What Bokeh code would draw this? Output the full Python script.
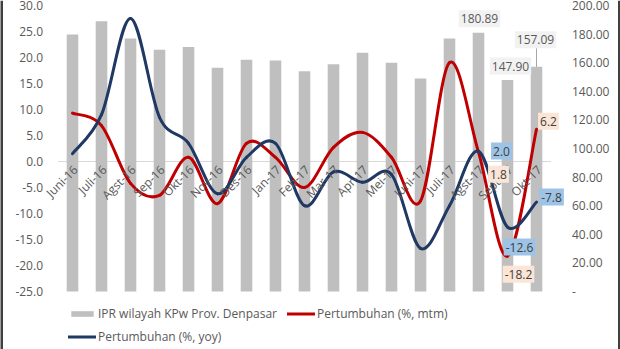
import math
from bokeh.plotting import figure
from bokeh.models import (Range1d, LinearAxis, FixedTicker, NumeralTickFormatter,
                          Label, Legend, LegendItem)
from bokeh.core.properties import value
from bokeh.embed import file_html
from bokeh.resources import INLINE

# ---------------- data ----------------
months = ["Juni-16", "Juli-16", "Agst-16", "Sep-16", "Okt-16", "Nov-16", "Des-16", "Jan-17",
          "Feb-17", "Mar-17", "Apr-17", "Mei-17", "Juni-17", "Juli-17", "Agst-17", "Sept-17", "Okt-17"]
ipr = [179.7, 189.0, 177.0, 169.0, 171.0, 156.4, 162.0, 161.5, 154.0, 159.0, 167.0, 160.0,
       149.0, 177.0, 180.89, 147.90, 157.09]
mtm = [9.3, 6.9, -4.2, -6.5, 0.8, -8.1, 3.5, 0.8, -5.0, 2.7, 5.6, 0.8, -7.6, 19.0, 1.8, -18.2, 6.2]
yoy = [1.5, 9.0, 27.5, 8.5, 3.5, -6.2, 0.8, 3.5, -8.5, -2.0, -4.0, -2.5, -16.7, -8.5, 2.0, -12.6, -7.8]
left_ticks = [-25, -20, -15, -10, -5, 0, 5, 10, 15, 20, 25, 30]
right_ticks = [0, 20, 40, 60, 80, 100, 120, 140, 160, 180, 200]

bar_labels_idx = [14, 15, 16]
mtm_labels_idx = [14, 15, 16]
yoy_labels_idx = [14, 15, 16]

FONT = "Open Sans"
GRAY_TXT = "#595959"
RED = "#C00000"
NAVY = "#203864"
BAR = "#BFBFBF"

W, H = 620, 349
n = len(months)
xs = list(range(n))

# plotting area of the original chart (pixels) -> ranges spanning the whole canvas
px_per_cat = 29.0
first_cat_px = 72.0
x_start = -first_cat_px / px_per_cat
x_end = x_start + W / px_per_cat
px_left_unit = 5.2
zero_px = 161.0
y_top = zero_px / px_left_unit
y_bot = -(H - zero_px) / px_left_unit
r_scale = 200.0 / 55.0   # right axis units per left axis unit
r_top = (y_top + 25) * r_scale
r_bot = (y_bot + 25) * r_scale

p = figure(width=W, height=H, x_range=Range1d(x_start, x_end),
           y_range=Range1d(y_bot, y_top), x_axis_type=None,
           output_backend="svg", toolbar_location=None,
           min_border=0, min_border_left=0, min_border_right=0, min_border_top=0,
           min_border_bottom=0, outline_line_color=None)
p.extra_y_ranges = {"right": Range1d(r_bot, r_top)}
p.grid.visible = False

ax = p.yaxis[0]
ax.fixed_location = -0.5
ax.ticker = FixedTicker(ticks=left_ticks)
ax.formatter = NumeralTickFormatter(format="0.0")
ax.axis_line_color = None
ax.major_tick_line_color = None
ax.minor_tick_line_color = None
ax.major_label_text_color = GRAY_TXT
ax.major_label_text_font = FONT
ax.major_label_text_font_size = "12px"
ax.major_label_standoff = 9

rax = LinearAxis(y_range_name="right", ticker=FixedTicker(ticks=right_ticks),
                 formatter=NumeralTickFormatter(format="0.00"),
                 major_label_overrides={0: "-"}, fixed_location=n - 0.5,
                 axis_line_color=None, major_tick_line_color=None, minor_tick_line_color=None,
                 major_label_text_color=GRAY_TXT, major_label_text_font=FONT,
                 major_label_text_font_size="12px", major_label_standoff=15)
p.add_layout(rax, "right")

# zero line
p.segment(x0=[-0.5], y0=[0], x1=[n - 0.5], y1=[0], line_color="#D9D9D9", line_width=1)

# bars
bars = p.vbar(x=xs, top=ipr, bottom=0, width=0.4, y_range_name="right",
              fill_color=BAR, line_color=None)


def smooth(vals):
    m = len(vals)
    x0, y0, x1, y1, cx0, cy0, cx1, cy1 = [], [], [], [], [], [], [], []
    for i in range(m - 1):
        pm = vals[max(i - 1, 0)]
        p0 = vals[i]
        p1 = vals[i + 1]
        pn = vals[min(i + 2, m - 1)]
        xm = max(i - 1, 0)
        xn = min(i + 2, m - 1)
        x0.append(i); y0.append(p0)
        x1.append(i + 1); y1.append(p1)
        cx0.append(i + (i + 1 - xm) / 6.0); cy0.append(p0 + (p1 - pm) / 6.0)
        cx1.append(i + 1 - (xn - i) / 6.0); cy1.append(p1 - (pn - p0) / 6.0)
    return dict(x0=x0, y0=y0, x1=x1, y1=y1, cx0=cx0, cy0=cy0, cx1=cx1, cy1=cy1)


red_line = p.bezier(line_color=RED, line_width=3, line_cap="round", **smooth(mtm))
blue_line = p.bezier(line_color=NAVY, line_width=3, line_cap="round", **smooth(yoy))

# x category labels at the zero line
p.text(x=xs, y=[0] * n, text=months, angle=math.pi / 4, text_align="right",
       text_baseline="middle", x_offset=3, y_offset=6, text_color=GRAY_TXT,
       text_font=value(FONT), text_font_size="12px")

# bar data labels
bar_offsets = {14: (1, 14), 15: (3, 14), 16: (-1, 27)}
for i in bar_labels_idx:
    dx, dy = bar_offsets[i]
    p.add_layout(Label(x=i, y=ipr[i], y_range_name="right", x_offset=dx, y_offset=dy,
                       text=f"{ipr[i]:.2f}", text_align="center", text_baseline="middle",
                       text_font=FONT, text_font_size="12px", text_color=GRAY_TXT,
                       background_fill_color="#F2F2F2", padding=(2, 4)))
# leader line for last bar label
p.segment(x0=[16], y0=[ipr[16]], x1=[16], y1=[ipr[16] + 13], y_range_name="right",
          line_color="#A6A6A6", line_width=1)

mtm_offsets = {14: (20, -22), 15: (11, -18), 16: (12, 8)}
for i in mtm_labels_idx:
    dx, dy = mtm_offsets[i]
    p.add_layout(Label(x=i, y=mtm[i], x_offset=dx, y_offset=dy, text=f"{mtm[i]:.1f}",
                       text_align="center", text_baseline="middle", text_font=FONT,
                       text_font_size="12px", text_color="#404040",
                       background_fill_color="#FBE5D6", padding=(2, 4)))
yoy_offsets = {14: (23, 0), 15: (12, -20), 16: (15, 5)}
for i in yoy_labels_idx:
    dx, dy = yoy_offsets[i]
    p.add_layout(Label(x=i, y=yoy[i], x_offset=dx, y_offset=dy, text=f"{yoy[i]:.1f}",
                       text_align="center", text_baseline="middle", text_font=FONT,
                       text_font_size="12px", text_color="#404040",
                       background_fill_color="#9DC3E6", padding=(2, 4)))

legend = Legend(items=[LegendItem(label="IPR wilayah KPw Prov. Denpasar", renderers=[bars]),
                       LegendItem(label="Pertumbuhan (%, mtm)", renderers=[red_line]),
                       LegendItem(label="Pertumbuhan (%, yoy)", renderers=[blue_line])],
                orientation="horizontal", ncols=2, location=(68, 3), margin=0, padding=0,
                spacing=3, glyph_width=28, glyph_height=7, label_height=20, label_width=186,
                label_standoff=2, label_text_font=FONT, label_text_font_size="12px",
                label_text_color=GRAY_TXT, border_line_color=None, background_fill_alpha=0)
p.add_layout(legend)

# dark side borders of the picture
p.segment(x0=[x_start, x_end], y0=[y_bot, y_bot], x1=[x_start, x_end], y1=[y_top, y_top],
          line_color="#404040", line_width=5)

open("out.html", "w").write(file_html(p, INLINE))
